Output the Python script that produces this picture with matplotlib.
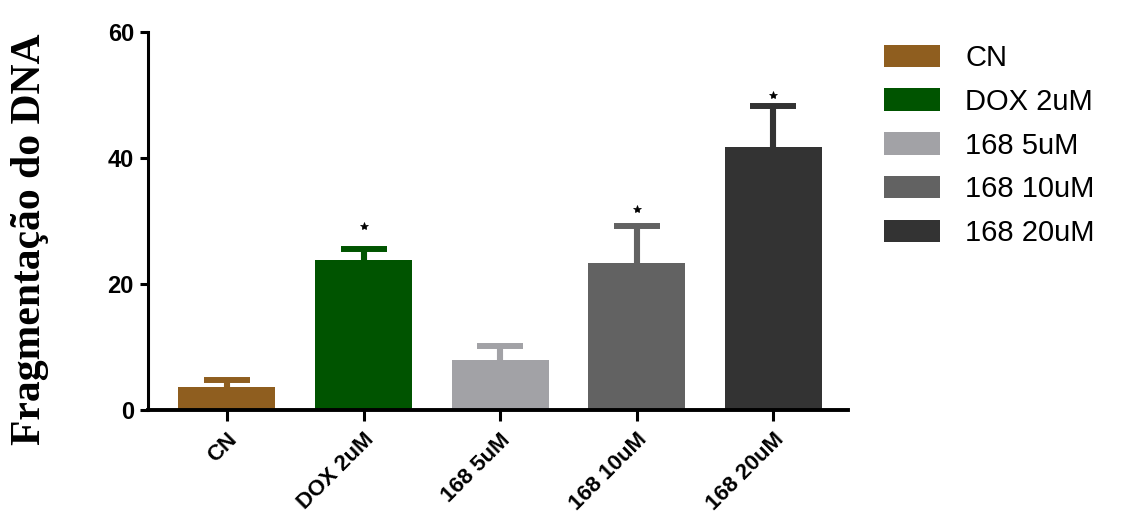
import matplotlib
matplotlib.use("Agg")
import matplotlib.pyplot as plt
from matplotlib.patches import Patch

categories = ["CN", "DOX 2uM", "168 5uM", "168 10uM", "168 20uM"]
means = [3.7, 23.8, 8.0, 23.4, 41.8]
sem = [1.1, 1.7, 2.2, 5.8, 6.45]
star_y = [None, 29.25, None, 31.9, 50.0]
colors = ["#8F5E1F", "#005400", "#A2A2A6", "#626262", "#333333"]
y_ticks = [0, 20, 40, 60]

fig = plt.figure(figsize=(11.28, 5.28), dpi=100)
ax = fig.add_axes([0.131, 0.2235, 0.621, 0.7155])

x = list(range(len(categories)))
ax.bar(x, means, width=0.71, color=colors, zorder=2)
for xi, m, e, c, sy in zip(x, means, sem, colors, star_y):
    ax.errorbar(xi, m, yerr=[[0], [e]], fmt="none", ecolor=c, elinewidth=4.4,
                capsize=0, zorder=1)
    ax.plot([xi], [m + e], marker="_", markersize=33, markeredgewidth=4.3,
            color=c, zorder=1)
    if sy is not None:
        ax.plot([xi], [sy], marker="*", markersize=6, color="black",
                markeredgewidth=0.5, zorder=3)

ax.set_xlim(-0.58, 4.55)
ax.set_ylim(0, 60)
ax.set_yticks(y_ticks)
ax.set_xticks(x)
ax.set_xticklabels(categories, rotation=45, ha="right", rotation_mode="anchor",
                   fontsize=16, fontweight="bold", family="Liberation Sans")
for lab in ax.get_yticklabels():
    lab.set_fontsize(17)
    lab.set_fontweight("bold")
    lab.set_family("Liberation Sans")
ax.spines["top"].set_visible(False)
ax.spines["right"].set_visible(False)
ax.spines["left"].set_linewidth(2.2)
ax.spines["bottom"].set_linewidth(2.8)
ax.tick_params(axis="y", direction="out", length=6, width=2.2, pad=4)
ax.tick_params(axis="x", direction="out", length=8, width=2.2, pad=6)

fig.text(0.027, 0.547, "Fragmentação do DNA", rotation=90, ha="center", va="center",
         fontsize=30, fontweight="bold", family="Liberation Serif")

handles = [Patch(facecolor=c, edgecolor="none") for c in colors]
fig.legend(handles, categories, loc="upper left",
           bbox_to_anchor=(884 / 1128, 1 - 44 / 528), frameon=False,
           prop={"family": "Liberation Sans", "size": 21},
           handlelength=1.92, handleheight=0.82, labelspacing=0.54,
           handletextpad=0.86, borderpad=0, borderaxespad=0)

fig.savefig("out.png", dpi=100)
